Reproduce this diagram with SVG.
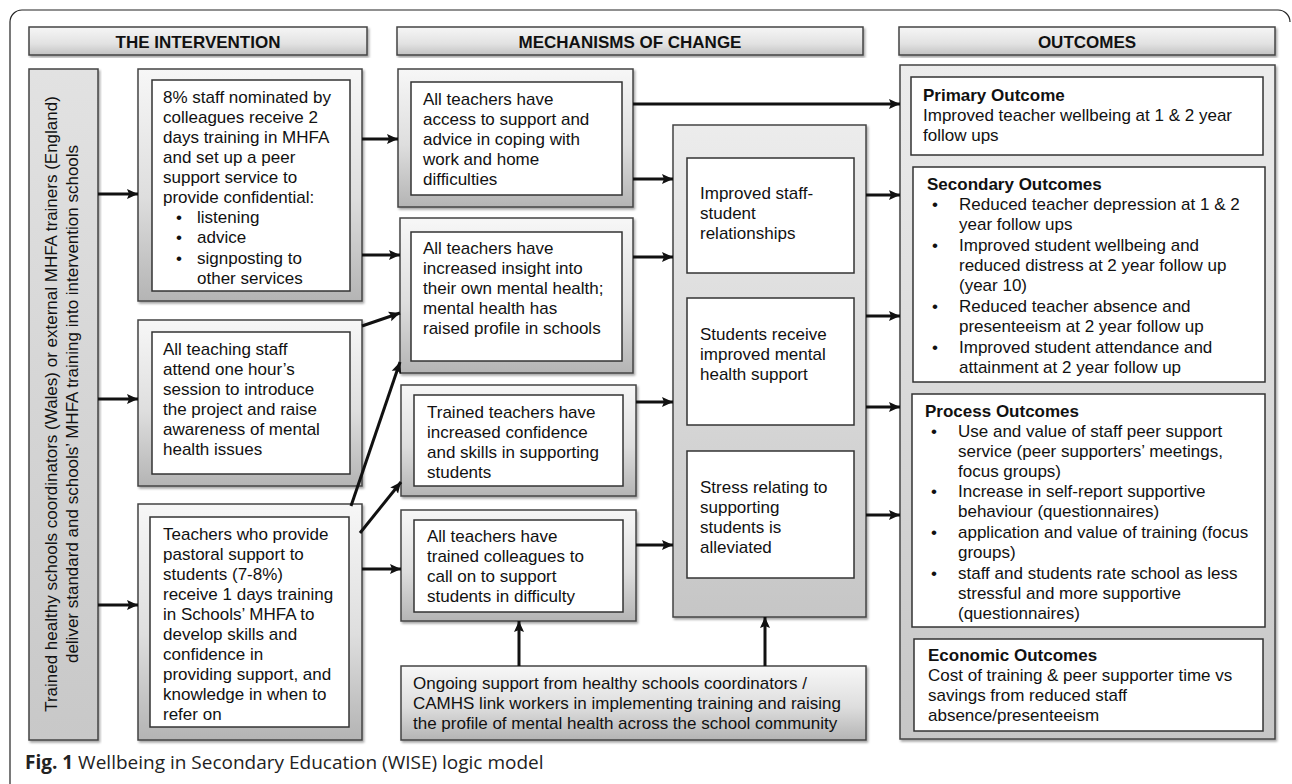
<svg xmlns="http://www.w3.org/2000/svg" width="1292" height="784" viewBox="0 0 1292 784">
<defs>
<linearGradient id="gOuter" x1="0" y1="0" x2="0" y2="1"><stop offset="0" stop-color="#f7f7f7"/><stop offset="0.55" stop-color="#dedede"/><stop offset="1" stop-color="#b4b4b4"/></linearGradient>
<linearGradient id="gBig" x1="0" y1="0" x2="0" y2="1"><stop offset="0" stop-color="#ececec"/><stop offset="1" stop-color="#c6c6c6"/></linearGradient>
<linearGradient id="gHead" x1="0" y1="0" x2="0" y2="1"><stop offset="0" stop-color="#f6f6f6"/><stop offset="0.6" stop-color="#e2e2e2"/><stop offset="1" stop-color="#c2c2c2"/></linearGradient>
<linearGradient id="gLeft" x1="0" y1="0" x2="0" y2="1"><stop offset="0" stop-color="#e2e2e2"/><stop offset="1" stop-color="#c8c8c8"/></linearGradient>
<filter id="sh" x="-5%" y="-5%" width="110%" height="115%"><feDropShadow dx="1.5" dy="2" stdDeviation="1" flood-color="#000" flood-opacity="0.35"/></filter>
<marker id="ah" markerUnits="userSpaceOnUse" markerWidth="12" markerHeight="12" refX="11" refY="6" orient="auto"><path d="M0,1 L11,6 L0,11 L2,6 z" fill="#111"/></marker>
<style>
text{font-family:"Liberation Sans",Arial,sans-serif;font-size:17px;fill:#111}
.hd{font-weight:bold;text-anchor:middle}
.b{font-weight:bold}
.outer{fill:url(#gOuter);stroke:#444;stroke-width:1.5;filter:url(#sh)}
.big{fill:url(#gBig);stroke:#444;stroke-width:1.5;filter:url(#sh)}
.head{fill:url(#gHead);stroke:#444;stroke-width:1.5;filter:url(#sh)}
.inner{fill:#fff;stroke:#333;stroke-width:1.5}
.cn line{stroke:#111;stroke-width:3;marker-end:url(#ah)}
.cap{font-family:"Open Sans","Liberation Sans",sans-serif;font-size:19px;fill:#222}
</style>
</defs>
<rect width="1292" height="784" fill="#fff"/>
<path d="M10,784 V22 A12,12 0 0 1 22,10 H1278 A12,12 0 0 1 1290,22" fill="none" stroke="#222" stroke-width="1.2"/>

<g id="headers">
<rect class="head" x="29" y="27" width="338" height="28"/>
<text class="hd" x="198" y="48">THE INTERVENTION</text>
<rect class="head" x="397" y="27" width="466" height="28"/>
<text class="hd" x="630" y="48">MECHANISMS OF CHANGE</text>
<rect class="head" x="899" y="27" width="376" height="28"/>
<text class="hd" x="1087" y="48">OUTCOMES</text>
</g>

<g id="delivery">
<rect x="29" y="69" width="69" height="671" fill="url(#gLeft)" stroke="#444" stroke-width="1.5" filter="url(#sh)"/>
<text transform="translate(57,404) rotate(-90)" text-anchor="middle">Trained healthy schools coordinators (Wales) or external MHFA trainers (England)</text>
<text transform="translate(78,404) rotate(-90)" text-anchor="middle">deliver standard and schools’ MHFA training into intervention schools</text>
</g>

<g id="int1">
<rect class="outer" x="138" y="69" width="224" height="232"/>
<rect class="inner" x="152" y="80" width="198" height="211"/>
<text x="163" y="103">8% staff nominated by</text>
<text x="163" y="123">colleagues receive 2</text>
<text x="163" y="143">days training in MHFA</text>
<text x="163" y="163">and set up a peer</text>
<text x="163" y="183">support service to</text>
<text x="163" y="203">provide confidential:</text>
<text x="176" y="223">•</text><text x="197" y="223">listening</text>
<text x="176" y="243">•</text><text x="197" y="243">advice</text>
<text x="176" y="264">•</text><text x="197" y="264">signposting to</text>
<text x="197" y="284">other services</text>
</g>

<g id="int2">
<rect class="outer" x="138" y="320" width="224" height="166"/>
<rect class="inner" x="152" y="332" width="198" height="142"/>
<text x="163" y="355">All teaching staff</text>
<text x="163" y="375">attend one hour’s</text>
<text x="163" y="395">session to introduce</text>
<text x="163" y="415">the project and raise</text>
<text x="163" y="435">awareness of mental</text>
<text x="163" y="455">health issues</text>
</g>

<g id="int3">
<rect class="outer" x="138" y="504" width="224" height="236"/>
<rect class="inner" x="150" y="517" width="199" height="210"/>
<text x="163" y="540">Teachers who provide</text>
<text x="163" y="560">pastoral support to</text>
<text x="163" y="580">students (7-8%)</text>
<text x="163" y="600">receive 1 days training</text>
<text x="163" y="620">in Schools’ MHFA to</text>
<text x="163" y="640">develop skills and</text>
<text x="163" y="660">confidence in</text>
<text x="163" y="680">providing support, and</text>
<text x="163" y="700">knowledge in when to</text>
<text x="163" y="720">refer on</text>
</g>

<g id="mech1">
<rect class="outer" x="398" y="69" width="235" height="138"/>
<rect class="inner" x="411" y="82" width="211" height="113"/>
<text x="423" y="105">All teachers have</text>
<text x="423" y="125">access to support and</text>
<text x="423" y="145">advice in coping with</text>
<text x="423" y="165">work and home</text>
<text x="423" y="185">difficulties</text>
</g>

<g id="mech2">
<rect class="outer" x="400" y="218" width="233" height="155"/>
<rect class="inner" x="411" y="232" width="211" height="129"/>
<text x="423" y="254">All teachers have</text>
<text x="423" y="274">increased insight into</text>
<text x="423" y="294">their own mental health;</text>
<text x="423" y="314">mental health has</text>
<text x="423" y="334">raised profile in schools</text>
</g>

<g id="mech3">
<rect class="outer" x="401" y="385" width="235" height="111"/>
<rect class="inner" x="414" y="395" width="209" height="91"/>
<text x="427" y="418">Trained teachers have</text>
<text x="427" y="438">increased confidence</text>
<text x="427" y="458">and skills in supporting</text>
<text x="427" y="478">students</text>
</g>

<g id="mech4">
<rect class="outer" x="401" y="510" width="235" height="111"/>
<rect class="inner" x="414" y="520" width="209" height="92"/>
<text x="427" y="542">All teachers have</text>
<text x="427" y="562">trained colleagues to</text>
<text x="427" y="582">call on to support</text>
<text x="427" y="602">students in difficulty</text>
</g>

<g id="central">
<rect class="big" x="673" y="125" width="193" height="492"/>
<rect class="inner" x="687" y="158" width="167" height="115"/>
<text x="700" y="199">Improved staff-</text>
<text x="700" y="219">student</text>
<text x="700" y="239">relationships</text>
<rect class="inner" x="687" y="298" width="167" height="127"/>
<text x="700" y="340">Students receive</text>
<text x="700" y="360">improved mental</text>
<text x="700" y="380">health support</text>
<rect class="inner" x="687" y="451" width="167" height="127"/>
<text x="700" y="493">Stress relating to</text>
<text x="700" y="513">supporting</text>
<text x="700" y="533">students is</text>
<text x="700" y="553">alleviated</text>
</g>

<g id="ongoing">
<rect class="outer" x="401" y="666" width="465" height="74"/>
<text x="413" y="689">Ongoing support from healthy schools coordinators /</text>
<text x="413" y="709">CAMHS link workers in implementing training and raising</text>
<text x="413" y="729">the profile of mental health across the school community</text>
</g>

<g id="outcomes">
<rect class="big" x="900" y="65" width="375" height="674"/>
<g id="primary">
<rect class="inner" x="911" y="77" width="352" height="78"/>
<text class="b" x="923" y="101">Primary Outcome</text>
<text x="923" y="121">Improved teacher wellbeing at 1 &amp; 2 year</text>
<text x="923" y="141">follow ups</text>
</g>
<g id="secondary">
<rect class="inner" x="913" y="167" width="352" height="215"/>
<text class="b" x="927" y="190">Secondary Outcomes</text>
<text x="932" y="210">•</text><text x="959" y="210">Reduced teacher depression at 1 &amp; 2</text>
<text x="959" y="230">year follow ups</text>
<text x="932" y="251">•</text><text x="959" y="251">Improved student wellbeing and</text>
<text x="959" y="271">reduced distress at 2 year follow up</text>
<text x="959" y="291">(year 10)</text>
<text x="932" y="312">•</text><text x="959" y="312">Reduced teacher absence and</text>
<text x="959" y="332">presenteeism at 2 year follow up</text>
<text x="932" y="353">•</text><text x="959" y="353">Improved student attendance and</text>
<text x="959" y="373">attainment at 2 year follow up</text>
</g>
<g id="process">
<rect class="inner" x="912" y="394" width="353" height="233"/>
<text class="b" x="925" y="417">Process Outcomes</text>
<text x="931" y="437">•</text><text x="958" y="437">Use and value of staff peer support</text>
<text x="958" y="457">service (peer supporters’ meetings,</text>
<text x="958" y="477">focus groups)</text>
<text x="931" y="497">•</text><text x="958" y="497">Increase in self-report supportive</text>
<text x="958" y="517">behaviour (questionnaires)</text>
<text x="931" y="538">•</text><text x="958" y="538">application and value of training (focus</text>
<text x="958" y="558">groups)</text>
<text x="931" y="579">•</text><text x="958" y="579">staff and students rate school as less</text>
<text x="958" y="599">stressful and more supportive</text>
<text x="958" y="619">(questionnaires)</text>
</g>
<g id="economic">
<rect class="inner" x="914" y="639" width="349" height="92"/>
<text class="b" x="928" y="661">Economic Outcomes</text>
<text x="928" y="681">Cost of training &amp; peer supporter time vs</text>
<text x="928" y="701">savings from reduced staff</text>
<text x="928" y="721">absence/presenteeism</text>
</g>
</g>

<g id="connectors" class="cn">
<line x1="98" y1="194" x2="138" y2="194"/>
<line x1="98" y1="399" x2="138" y2="399"/>
<line x1="98" y1="605" x2="138" y2="605"/>
<line x1="362" y1="139" x2="398" y2="139"/>
<line x1="362" y1="255" x2="400" y2="255"/>
<line x1="362" y1="326" x2="400" y2="313"/>
<line x1="351" y1="506" x2="400" y2="362"/>
<line x1="360" y1="533" x2="401" y2="482"/>
<line x1="362" y1="569" x2="401" y2="569"/>
<line x1="633" y1="104" x2="900" y2="104"/>
<line x1="633" y1="179" x2="673" y2="179"/>
<line x1="633" y1="257" x2="673" y2="257"/>
<line x1="636" y1="402" x2="673" y2="402"/>
<line x1="636" y1="545" x2="673" y2="545"/>
<line x1="866" y1="195" x2="900" y2="195"/>
<line x1="866" y1="316" x2="900" y2="316"/>
<line x1="866" y1="407" x2="900" y2="407"/>
<line x1="866" y1="515" x2="900" y2="515"/>
<line x1="519" y1="666" x2="519" y2="621"/>
<line x1="765" y1="666" x2="765" y2="617"/>
</g>

<text class="cap" x="25" y="769"><tspan font-weight="bold">Fig. 1</tspan> Wellbeing in Secondary Education (WISE) logic model</text>
</svg>
